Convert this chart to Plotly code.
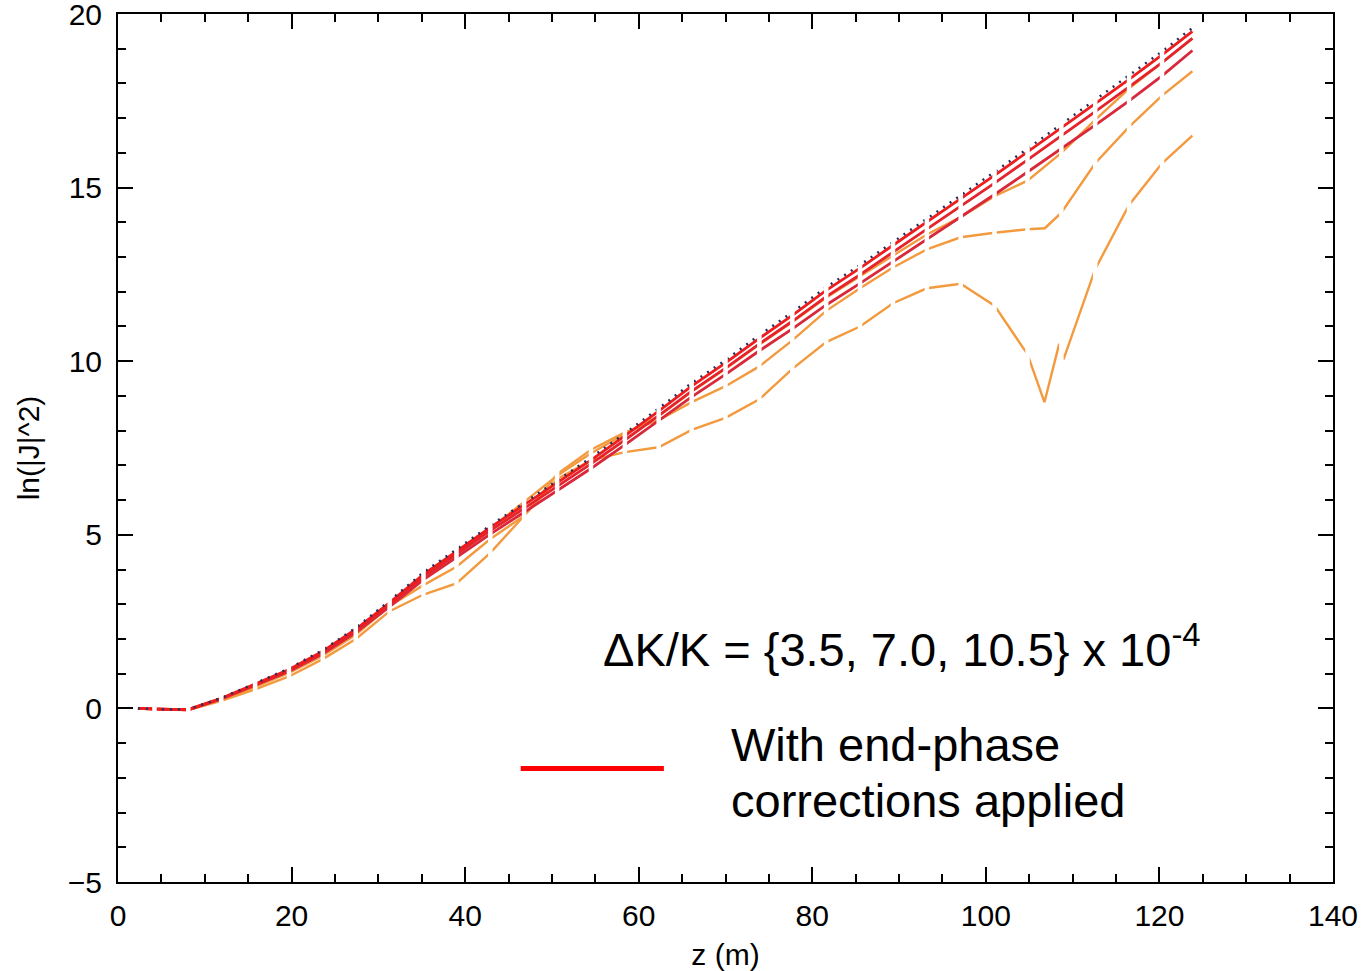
import numpy as np
import plotly.graph_objects as go

# ---------------- data ----------------
# positions (m) of the undulator breaks plus start/end of the curves
z_nodes = [2.3, 4.2, 8.1, 11.9, 15.8, 19.7, 23.6, 27.4, 31.3, 35.2, 39.0, 42.9, 46.8,
           50.6, 54.5, 58.4, 62.3, 66.1, 70.0, 73.9, 77.7, 81.6, 85.5, 89.3, 93.2, 97.1,
           101.0, 104.8, 108.7, 112.6, 116.5, 120.3, 123.8]
gap_z = z_nodes[1:-1]

ideal = [0.0, -0.02, -0.03, 0.30, 0.72, 1.15, 1.68, 2.32, 3.10, 3.92, 4.58, 5.27, 5.92,
         6.57, 7.22, 7.92, 8.64, 9.37, 10.03, 10.75, 11.41, 12.13, 12.77, 13.43, 14.10, 14.78,
         15.45, 16.12, 16.82, 17.52, 18.22, 18.92, 19.60]
red_35 = [0.0, -0.02, -0.03, 0.29, 0.70, 1.12, 1.65, 2.28, 3.05, 3.86, 4.52, 5.21, 5.86,
          6.50, 7.15, 7.85, 8.56, 9.28, 9.95, 10.66, 11.32, 12.04, 12.68, 13.34, 14.00, 14.68,
          15.35, 16.02, 16.72, 17.42, 18.12, 18.82, 19.50]
red_70 = [0.0, -0.02, -0.04, 0.28, 0.68, 1.09, 1.61, 2.23, 2.99, 3.79, 4.44, 5.12, 5.76,
          6.40, 7.04, 7.73, 8.43, 9.14, 9.80, 10.50, 11.15, 11.86, 12.49, 13.14, 13.80, 14.47,
          15.13, 15.80, 16.49, 17.19, 17.90, 18.60, 19.30]
red_105 = [0.0, -0.02, -0.04, 0.27, 0.66, 1.06, 1.57, 2.18, 2.93, 3.71, 4.35, 5.02, 5.65,
           6.28, 6.91, 7.59, 8.28, 8.97, 9.62, 10.30, 10.93, 11.62, 12.24, 12.87, 13.50, 14.16,
           14.80, 15.45, 16.12, 16.80, 17.50, 18.22, 18.95]
orange_35 = [0.0, -0.02, -0.03, 0.28, 0.68, 1.10, 1.62, 2.24, 3.02, 3.82, 4.48, 5.18, 5.95,
             6.70, 7.35, 7.90, 8.42, 9.12, 9.78, 10.48, 11.13, 11.83, 12.45, 13.05, 13.65, 14.15,
             14.75, 15.20, 16.00, 16.95, 17.85, 18.60, 19.30]

z_orange_70 = [2.3, 4.2, 8.1, 11.9, 15.8, 19.7, 23.6, 27.4, 31.3, 35.2, 39.0, 42.9, 46.8,
               50.6, 54.5, 58.4, 62.3, 66.1, 70.0, 73.9, 77.7, 81.6, 85.5, 89.3, 93.2, 97.1,
               101.0, 104.8, 106.8, 108.7, 112.6, 116.5, 120.3, 123.8]
orange_70 = [0.0, -0.02, -0.04, 0.25, 0.62, 1.02, 1.52, 2.12, 2.95, 3.55, 4.08, 4.88, 5.55,
             6.75, 7.45, 7.95, 8.30, 8.82, 9.28, 9.85, 10.60, 11.45, 12.10, 12.70, 13.22, 13.57,
             13.70, 13.80, 13.83, 14.28, 15.70, 16.75, 17.65, 18.35]

z_orange_105 = [2.3, 4.2, 8.1, 11.9, 15.8, 19.7, 23.6, 27.4, 31.3, 35.2, 39.0, 42.9, 46.8,
                50.6, 54.5, 58.4, 62.3, 66.1, 70.0, 73.9, 77.7, 81.6, 85.5, 89.3, 93.2, 97.1,
                101.0, 104.8, 106.75, 108.45, 108.95, 112.6, 116.5, 120.3, 123.8]
orange_105 = [0.0, -0.03, -0.05, 0.22, 0.55, 0.92, 1.42, 2.00, 2.80, 3.28, 3.60, 4.48, 5.55,
              6.60, 7.15, 7.38, 7.52, 8.02, 8.37, 8.90, 9.78, 10.55, 11.00, 11.67, 12.10, 12.23,
              11.60, 10.20, 8.82, 10.50, 10.05, 12.65, 14.50, 15.70, 16.50]

x_ticks = [0, 20, 40, 60, 80, 100, 120, 140]
y_ticks = [-5, 0, 5, 10, 15, 20]

# ---------------- figure ----------------
ORANGE = "#f39a3e"
fig = go.Figure()

def add(z, y, color, width, dash="solid"):
    fig.add_trace(go.Scatter(x=z, y=y, mode="lines", showlegend=False,
                             line=dict(color=color, width=width, dash=dash),
                             hoverinfo="skip", cliponaxis=False))

add(z_orange_105, orange_105, ORANGE, 2.4)
add(z_orange_70, orange_70, ORANGE, 2.4)
add(z_nodes, orange_35, ORANGE, 2.4)
add(z_nodes, red_105, "#d8283a", 2.8)
add(z_nodes, red_70, "#e4232c", 2.8)
add(z_nodes, red_35, "#ee1c1c", 2.8)
add(z_nodes, ideal, "#2b2d5c", 2.5, dash="2px,6px")

# white breaks between undulator segments
series = [(z_nodes, ideal), (z_nodes, red_35), (z_nodes, red_70), (z_nodes, red_105),
          (z_nodes, orange_35), (z_orange_70, orange_70), (z_orange_105, orange_105)]
for g in gap_z:
    vals = [float(np.interp(g, zz, yy)) for zz, yy in series]
    lo = max(min(vals) - 0.7, -4.7)
    hi = min(max(vals) + 0.7, 19.45)
    fig.add_shape(type="rect", xref="x", yref="y", x0=g - 0.26, x1=g + 0.26, y0=lo, y1=hi,
                  fillcolor="white", line=dict(width=0), layer="above")

# legend swatch and texts
fig.add_shape(type="line", xref="x", yref="y", x0=46.4, x1=62.9, y0=-1.73, y1=-1.73,
              line=dict(color="#ff0000", width=5), layer="above")

TXT = dict(family="Liberation Sans, Arial, sans-serif", size=47, color="black")
fig.add_annotation(x=55.6, y=1.8, xref="x", yref="y", xanchor="left", yanchor="middle",
                   text="ΔK/K = {3.5, 7.0, 10.5} x 10<sup>-4</sup>", showarrow=False, font=TXT)
fig.add_annotation(x=70.4, y=-1.05, xref="x", yref="y", xanchor="left", yanchor="middle",
                   text="With end-phase", showarrow=False, font=TXT)
fig.add_annotation(x=70.4, y=-2.65, xref="x", yref="y", xanchor="left", yanchor="middle",
                   text="corrections applied", showarrow=False, font=TXT)

AX_FONT = dict(family="Liberation Sans, Arial, sans-serif", size=30, color="black")
common = dict(showline=True, linecolor="black", linewidth=2, mirror="allticks",
              ticks="inside", ticklen=15, tickwidth=2, tickcolor="black",
              showgrid=False, zeroline=False, tickfont=AX_FONT, automargin=False,
              ticklabeloverflow="allow")

fig.update_xaxes(range=[0, 140], tickvals=x_ticks, ticktext=[str(v) for v in x_ticks],
                 minor=dict(dtick=5, ticks="inside", ticklen=8, tickwidth=1.5, tickcolor="black",
                            showgrid=False),
                 title=dict(text="z (m)", font=AX_FONT, standoff=14),
                 ticklabelstandoff=6, **common)
fig.update_yaxes(range=[-5, 20], tickvals=y_ticks,
                 ticktext=[("\u2212" + str(-v)) if v < 0 else str(v) for v in y_ticks],
                 minor=dict(dtick=1, ticks="inside", ticklen=8, tickwidth=1.5, tickcolor="black",
                            showgrid=False),
                 title=dict(text="ln(|J|^2)", font=dict(family="Liberation Sans, Arial, sans-serif",
                                                       size=30, color="black"), standoff=19),
                 ticklabelstandoff=8, **common)

fig.update_layout(width=1363, height=971, margin=dict(l=118, r=30, t=14, b=89),
                  plot_bgcolor="white", paper_bgcolor="white")

fig.write_html("out.html", config={"displayModeBar": False},
               post_script="document.body.style.margin='0px';")
